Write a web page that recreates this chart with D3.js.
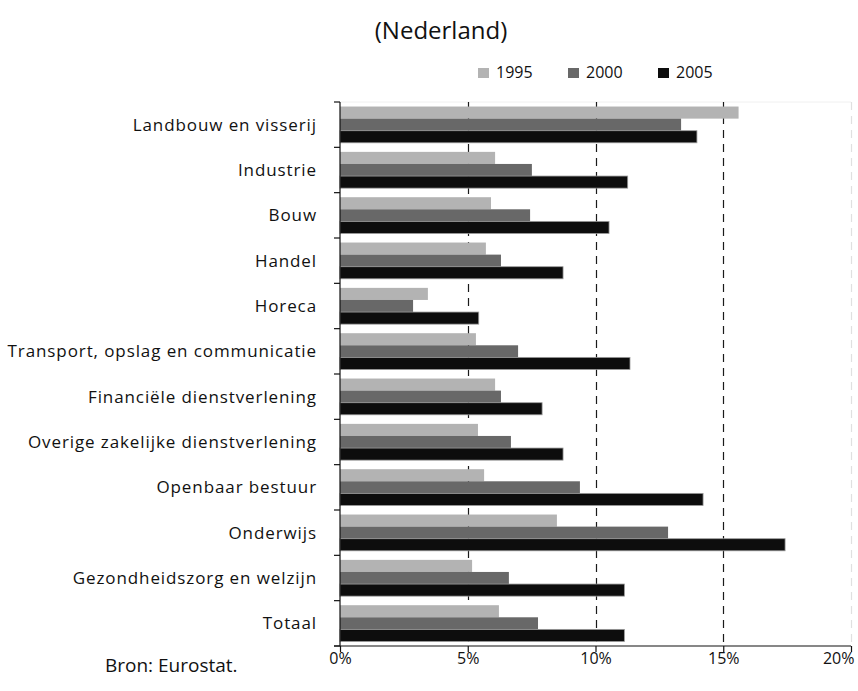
<!DOCTYPE html>
<html>
<head>
<meta charset="utf-8">
<script src="https://cdn.jsdelivr.net/npm/d3@7"></script>
<style>
  html, body { margin: 0; padding: 0; background: #fff; }
  svg { display: block; font-family: "Open Sans", "Noto Sans", sans-serif; }
</style>
</head>
<body>
<svg id="chart" width="858" height="691"></svg>
<script>
const categories = [
  "Landbouw  en visserij",
  "Industrie",
  "Bouw",
  "Handel",
  "Horeca",
  "Transport, opslag en communicatie",
  "Financiële dienstverlening",
  "Overige zakelijke dienstverlening",
  "Openbaar bestuur",
  "Onderwijs",
  "Gezondheidszorg en welzijn",
  "Totaal"
];
const seriesNames = ["1995", "2000", "2005"];
const values1995 = [15.6, 6.07, 5.91, 5.71, 3.44, 5.32, 6.07, 5.40, 5.64, 8.49, 5.17, 6.22];
const values2000 = [13.35, 7.51, 7.44, 6.30, 2.86, 6.97, 6.30, 6.69, 9.39, 12.84, 6.61, 7.75];
const values2005 = [13.97, 11.26, 10.53, 8.73, 5.43, 11.35, 7.91, 8.73, 14.21, 17.42, 11.13, 11.13];
const xTicks = [0, 5, 10, 15, 20];
const xTickLabels = ["0%", "5%", "10%", "15%", "20%"];
const colors = ["#b3b3b3", "#686868", "#0d0d0d"];

const seriesValues = [values1995, values2000, values2005];
const rows = categories.map((c, i) => ({
  cat: c,
  vals: seriesNames.map((s, k) => ({ key: s, v: seriesValues[k][i] }))
}));

const svg = d3.select("#chart");
const x = d3.scaleLinear().domain([0, 20]).range([340, 851]);
const y = d3.scaleBand().domain(categories).range([102, 646]).paddingInner(0.2).paddingOuter(0.1);
const ys = d3.scaleBand().domain(seriesNames).range([0, y.bandwidth()]);
const color = d3.scaleOrdinal().domain(seriesNames).range(colors);

// Title
svg.append("text")
  .attr("x", 441).attr("y", 39)
  .attr("text-anchor", "middle")
  .attr("font-size", 24).attr("fill", "#111")
  .text("(Nederland)");

// faint plot border top
svg.append("line")
  .attr("x1", x(0)).attr("x2", x(20)).attr("y1", 102).attr("y2", 102)
  .attr("stroke", "#f0f0f0").attr("stroke-width", 1);

// Gridlines
svg.append("g").selectAll("line").data(xTicks.filter(d => d > 0)).join("line")
  .attr("x1", d => Math.round(x(d)) + 0.5).attr("x2", d => Math.round(x(d)) + 0.5)
  .attr("y1", 102).attr("y2", 646)
  .attr("stroke", d => d === 20 ? "#e0e0e0" : "#1a1a1a")
  .attr("stroke-width", 1.2)
  .attr("stroke-dasharray", "8,6");

// Bars
const groups = svg.append("g").selectAll("g").data(rows).join("g")
  .attr("transform", d => `translate(0,${y(d.cat)})`);
groups.selectAll("rect").data(d => d.vals).join("rect")
  .attr("x", x(0))
  .attr("y", d => ys(d.key))
  .attr("width", d => x(d.v) - x(0))
  .attr("height", ys.bandwidth())
  .attr("fill", d => color(d.key))
  .attr("stroke", d => d.key === "2005" ? "#9a9a9a" : "none")
  .attr("stroke-width", 0.8);

// Y axis
const yAxisG = svg.append("g");
yAxisG.append("line")
  .attr("x1", x(0)).attr("x2", x(0)).attr("y1", 102).attr("y2", 646)
  .attr("stroke", "#111").attr("stroke-width", 1.2);
const bounds = categories.map(c => y(c) - y.step() * y.paddingInner() / 2);
bounds.push(646);
yAxisG.selectAll("line.tick").data(bounds).join("line").attr("class", "tick")
  .attr("x1", x(0) - 6).attr("x2", x(0))
  .attr("y1", d => d).attr("y2", d => d)
  .attr("stroke", "#111").attr("stroke-width", 1.2);
yAxisG.selectAll("text").data(categories).join("text")
  .attr("x", 317)
  .attr("y", d => y(d) + y.bandwidth() / 2)
  .attr("dy", "0.35em")
  .attr("text-anchor", "end")
  .attr("font-size", 17).attr("letter-spacing", "0.9px").attr("fill", "#111")
  .text(d => d);

// X axis
const xAxis = d3.axisBottom(x).tickValues(xTicks).tickSize(6).tickFormat((d, i) => xTickLabels[i]);
const xg = svg.append("g").attr("transform", "translate(0,646)").call(xAxis);
xg.select(".domain").attr("stroke", "#111").attr("stroke-width", 1.2).attr("d", `M${x(0)-6},0H${x(20)}`);
xg.selectAll(".tick line").attr("stroke", "#111").attr("stroke-width", 1.2);
xg.selectAll(".tick text").attr("font-size", 16).attr("fill", "#111")
  .attr("y", 18).attr("dy", 0)
  .attr("font-family", "'Open Sans', sans-serif")
  .filter(d => d === 20).attr("text-anchor", "end").attr("x", 3);

// Source
svg.append("text")
  .attr("x", 105).attr("y", 672)
  .attr("font-size", 19).attr("fill", "#111")
  .text("Bron: Eurostat.");

// Legend
const leg = svg.append("g").selectAll("g").data(seriesNames).join("g")
  .attr("transform", (d, i) => `translate(${478 + i * 90},68)`);
leg.append("rect").attr("width", 11).attr("height", 10).attr("fill", d => color(d));
leg.append("text").attr("x", 18).attr("y", 10).attr("font-size", 16).attr("fill", "#111").text(d => d);
</script>
</body>
</html>
